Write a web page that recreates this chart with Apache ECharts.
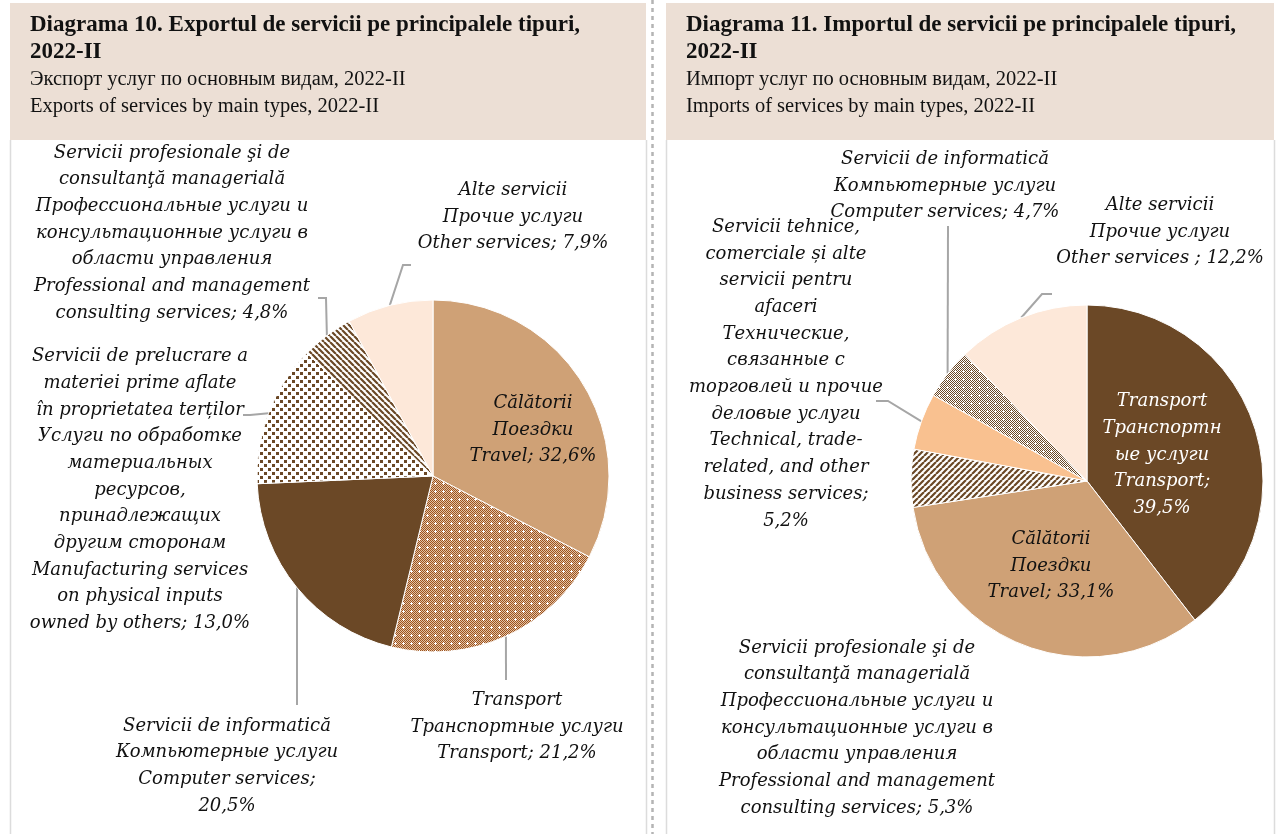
<!DOCTYPE html>
<html>
<head>
<meta charset="utf-8">
<script src="https://cdn.jsdelivr.net/npm/echarts@6/dist/echarts.min.js"></script>
<style>
  html, body { margin: 0; padding: 0; background: #fff; }
  #chart { width: 1280px; height: 834px; }
</style>
</head>
<body>
<div id="chart"></div>
<script>
// data
var exportNames = ['Călătorii', 'Transport', 'Servicii de informatică', 'Servicii de prelucrare', 'Servicii profesionale', 'Alte servicii'];
var exportValues = [32.6, 21.2, 20.5, 13.0, 4.8, 7.9];
var exportLabels = [
  'Călătorii\nПоездки\nTravel; {v}%',
  'Transport\nТранспортные услуги\nTransport; {v}%',
  'Servicii de informatică\nКомпьютерные услуги\nComputer services;\n{v}%',
  'Servicii de prelucrare a\nmateriei prime aflate\nîn proprietatea terților\nУслуги по обработке\nматериальных\nресурсов,\nпринадлежащих\nдругим сторонам\nManufacturing services\non physical inputs\nowned by others; {v}%',
  'Servicii profesionale şi de\nconsultanţă managerială\nПрофессиональные услуги и\nконсультационные услуги в\nобласти управления\nProfessional and management\nconsulting services; {v}%',
  'Alte servicii\nПрочие услуги\nOther services; {v}%'
];

var importNames = ['Transport', 'Călătorii', 'Servicii profesionale', 'Servicii tehnice', 'Servicii de informatică', 'Alte servicii'];
var importValues = [39.5, 33.1, 5.3, 5.2, 4.7, 12.2];
var importLabels = [
  'Transport\nТранспортн\nые услуги\nTransport;\n{v}%',
  'Călătorii\nПоездки\nTravel; {v}%',
  'Servicii profesionale şi de\nconsultanţă managerială\nПрофессиональные услуги и\nконсультационные услуги в\nобласти управления\nProfessional and management\nconsulting services; {v}%',
  'Servicii tehnice,\ncomerciale și alte\nservicii pentru\nafaceri\nТехнические,\nсвязанные с\nторговлей и прочие\nделовые услуги\nTechnical, trade-\nrelated, and other\nbusiness services;\n{v}%',
  'Servicii de informatică\nКомпьютерные услуги\nComputer services; {v}%',
  'Alte servicii\nПрочие услуги\nOther services ; {v}%'
];

// label anchors (centre of text block) and leader-line elbows, layout only
var exportLabelPos = [[533, 430], [517, 727], [227, 766], [140, 490], [172, 233], [513, 217]];
var exportElbows = [null, [[506, 680]], [[297, 705]], [[250, 415], [243, 415]], [[326, 298], [318, 298]], [[403, 265], [411, 265]]];
var importLabelPos = [[1162, 455], [1051, 566], [857, 728], [786, 374], [945, 186], [1160, 232]];
var importElbows = [null, null, null, [[888, 401], [876, 401]], [[948, 226]], [[1042, 294], [1052, 294]]];

// patterns
function makeTile(size, draw) {
  var c = document.createElement('canvas');
  c.width = size; c.height = size;
  var ctx = c.getContext('2d');
  draw(ctx);
  return { image: c, repeat: 'repeat' };
}
function gridTile(dark, light) {
  return makeTile(8, function (ctx) {
    ctx.fillStyle = light; ctx.fillRect(0, 0, 8, 8);
    ctx.fillStyle = dark;
    for (var y = 0; y < 8; y++) {
      for (var x = 0; x < 8; x++) {
        if ((x + y) % 2 === 0) ctx.fillRect(x, y, 1, 1);
      }
    }
    ctx.fillStyle = '#fff';
    ctx.fillRect(3, 2, 1, 3); ctx.fillRect(2, 3, 3, 1);
  });
}
var dotTile = makeTile(8, function (ctx) {
  ctx.fillStyle = '#fff'; ctx.fillRect(0, 0, 8, 8);
  ctx.fillStyle = '#6b4826';
  ctx.fillRect(0, 0, 3, 3); ctx.fillRect(4, 4, 3, 3);
});
function stripeTile(dir) {
  return makeTile(6, function (ctx) {
    ctx.fillStyle = '#fff'; ctx.fillRect(0, 0, 6, 6);
    ctx.strokeStyle = '#6b4826'; ctx.lineWidth = 2.2;
    ctx.beginPath();
    for (var k = -2; k <= 2; k++) {
      if (dir > 0) { ctx.moveTo(k * 6, 6); ctx.lineTo(k * 6 + 6, 0); }
      else { ctx.moveTo(k * 6, 0); ctx.lineTo(k * 6 + 6, 6); }
    }
    ctx.stroke();
  });
}

var exportColors = ['#cfa176', gridTile('#9c5220', '#e3c3a3'), '#6b4826', dotTile, stripeTile(-1), '#fde8d9'];
var importColors = ['#6b4826', '#cfa176', stripeTile(1), '#f9c190', gridTile('#6b4826', '#fff'), '#fde8d9'];

var labelFont = {
  fontFamily: 'DejaVu Serif',
  fontStyle: 'italic',
  fontSize: 18,
  lineHeight: 26.7,
  color: '#111',
  align: 'center'
};

function buildData(names, values, labels, colors, insideIdx, whiteIdx, noLineIdx) {
  return names.map(function (n, i) {
    var txt = labels[i].replace('{v}', values[i].toFixed(1).replace('.', ','));
    return {
      name: n,
      value: values[i],
      itemStyle: { color: colors[i] },
      label: {
        position: insideIdx.indexOf(i) >= 0 ? 'inside' : 'outside',
        formatter: txt,
        color: whiteIdx.indexOf(i) >= 0 ? '#fff' : '#111'
      },
      labelLine: { show: insideIdx.indexOf(i) < 0 && noLineIdx.indexOf(i) < 0 }
    };
  });
}

function pieSeries(center, data, pos, elbows) {
  return {
    type: 'pie',
    center: center,
    radius: [0, 176],
    startAngle: 90,
    clockwise: true,
    avoidLabelOverlap: false,
    itemStyle: { borderColor: '#fff', borderWidth: 1 },
    label: labelFont,
    labelLine: { lineStyle: { color: '#a6a6a6', width: 2 }, length: 10, length2: 10 },
    labelLayout: function (params) {
      var p = pos[params.dataIndex];
      var out = { x: p[0], y: p[1], align: 'center', verticalAlign: 'middle' };
      var e = elbows[params.dataIndex];
      if (e && params.labelLinePoints) {
        // keep the slice anchor computed by the pie, route the rest to the label
        out.labelLinePoints = [params.labelLinePoints[0]].concat(e);
      }
      return out;
    },
    emphasis: { disabled: true },
    silent: true,
    animation: false,
    data: data
  };
}

var chart = echarts.init(document.getElementById('chart'));

var titleText = { fontFamily: 'Liberation Serif', fontWeight: 'bold', fontSize: 23, lineHeight: 27, color: '#111' };
var subText = { fontFamily: 'Liberation Serif', fontWeight: 'normal', fontSize: 20.5, lineHeight: 27, color: '#111' };

chart.setOption({
  animation: false,
  graphic: [
    { type: 'rect', shape: { x: 10, y: 3, width: 636, height: 137 }, style: { fill: '#ecdfd5' }, silent: true },
    { type: 'rect', shape: { x: 666, y: 3, width: 608, height: 137 }, style: { fill: '#ecdfd5' }, silent: true },
    { type: 'line', shape: { x1: 10.5, y1: 140, x2: 10.5, y2: 834 }, style: { stroke: '#dcdcdc', lineWidth: 1.5 }, silent: true },
    { type: 'line', shape: { x1: 646.5, y1: 140, x2: 646.5, y2: 834 }, style: { stroke: '#dcdcdc', lineWidth: 1.5 }, silent: true },
    { type: 'line', shape: { x1: 666.5, y1: 140, x2: 666.5, y2: 834 }, style: { stroke: '#dcdcdc', lineWidth: 1.5 }, silent: true },
    { type: 'line', shape: { x1: 1274.5, y1: 140, x2: 1274.5, y2: 834 }, style: { stroke: '#dcdcdc', lineWidth: 1.5 }, silent: true },
    { type: 'line', shape: { x1: 652.5, y1: 0, x2: 652.5, y2: 834 }, style: { stroke: '#b4b4b4', lineWidth: 2.5, lineDash: [4, 4] }, silent: true }
  ],
  title: [
    {
      left: 30, top: 12, padding: 0, itemGap: 0,
      text: 'Diagrama 10. Exportul de servicii pe principalele tipuri,\n2022-II',
      subtext: 'Экспорт услуг по основным видам, 2022-II\nExports of services by main types, 2022-II',
      textStyle: titleText, subtextStyle: subText
    },
    {
      left: 686, top: 12, padding: 0, itemGap: 0,
      text: 'Diagrama 11. Importul de servicii pe principalele tipuri,\n2022-II',
      subtext: 'Импорт услуг по основным видам, 2022-II\nImports of services by main types, 2022-II',
      textStyle: titleText, subtextStyle: subText
    }
  ],
  series: [
    pieSeries([433, 476], buildData(exportNames, exportValues, exportLabels, exportColors, [0], [], []), exportLabelPos, exportElbows),
    pieSeries([1087, 481], buildData(importNames, importValues, importLabels, importColors, [0, 1], [0], [2]), importLabelPos, importElbows)
  ]
});
</script>
</body>
</html>
